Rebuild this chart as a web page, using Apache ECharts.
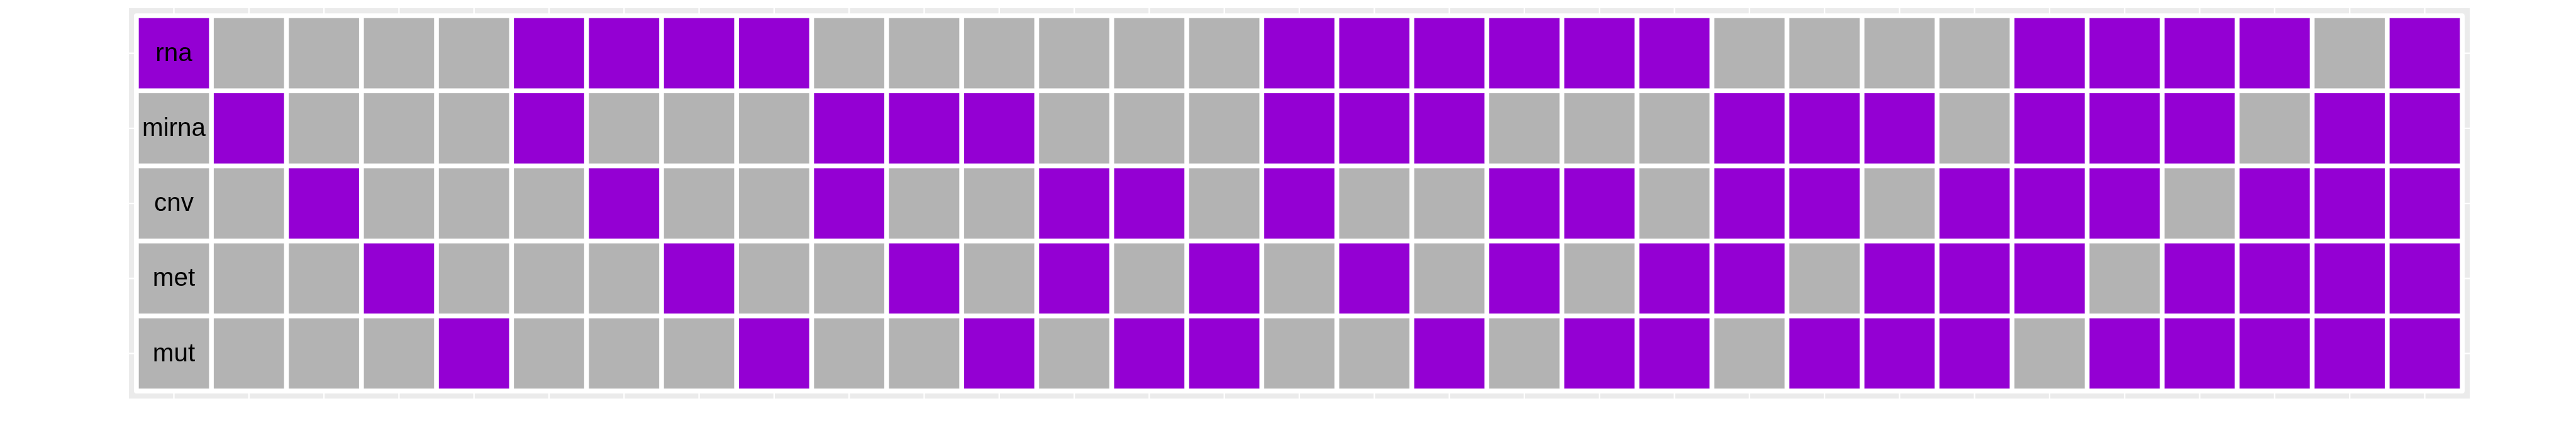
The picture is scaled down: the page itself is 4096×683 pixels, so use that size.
<!DOCTYPE html>
<html><head><meta charset="utf-8">
<script src="https://cdn.jsdelivr.net/npm/echarts@6/dist/echarts.min.js"></script>
<style>html,body{margin:0;padding:0;background:#fff}#c{width:4096px;height:683px}</style>
</head><body><div id="c"></div>
<script>
// ---- data ----
const rows = ['rna', 'mirna', 'cnv', 'met', 'mut'];
const columns = ['1','2','3','4','5','6','7','8','9','10','11','12','13','14','15','16','17','18','19','20','21','22','23','24','25','26','27','28','29','30','31'];
const rna   = [1,0,0,0,0,1,1,1,1,0,0,0,0,0,0,1,1,1,1,1,1,0,0,0,0,1,1,1,1,0,1];
const mirna = [0,1,0,0,0,1,0,0,0,1,1,1,0,0,0,1,1,1,0,0,0,1,1,1,0,1,1,1,0,1,1];
const cnv   = [0,0,1,0,0,0,1,0,0,1,0,0,1,1,0,1,0,0,1,1,0,1,1,0,1,1,1,0,1,1,1];
const met   = [0,0,0,1,0,0,0,1,0,0,1,0,1,0,1,0,1,0,1,0,1,1,0,1,1,1,0,1,1,1,1];
const mut   = [0,0,0,0,1,0,0,0,1,0,0,1,0,1,1,0,0,1,0,1,1,0,1,1,1,0,1,1,1,1,1];
const matrix = [rna, mirna, cnv, met, mut];

// ---- style ----
const S = 4096 / 7200;
const PURPLE = '#9400D3';
const GREY = '#B3B3B3';
const PANEL = '#EBEBEB';
const TILE = 0.937;
const INSET = 0.068;

const cellData = [];
matrix.forEach((arr, r) => arr.forEach((v, c) => cellData.push([c, r, v])));
const labelData = rows.map((name, r) => [0, r, name]);

const chart = echarts.init(document.getElementById('c'), null, {renderer: 'canvas'});
const nC = columns.length, nR = rows.length;

chart.setOption({
  animation: false,
  backgroundColor: '#ffffff',
  grid: {
    left: 360.2 * S, top: 23 * S,
    width: (6903 - 360.2) * S, height: (1112.7 - 23) * S,
    show: true, backgroundColor: PANEL, borderWidth: 0
  },
  xAxis: {type: 'value', min: -0.6, max: nC - 1 + 0.6, show: false},
  yAxis: {type: 'value', min: -0.6, max: nR - 1 + 0.6, inverse: true, show: false},
  series: [
    {
      type: 'custom',
      coordinateSystem: 'cartesian2d',
      data: [[0, 0]],
      silent: true,
      z: 1,
      renderItem: function (params, api) {
        const children = [];
        const lw = 4 * S;
        const tl = api.coord([-0.6, -0.6]);
        const br = api.coord([nC - 1 + 0.6, nR - 1 + 0.6]);
        columns.forEach((_, c) => {
          const x = api.coord([c, 0])[0];
          children.push({type: 'line', shape: {x1: x, y1: tl[1], x2: x, y2: br[1]},
            style: {stroke: '#ffffff', lineWidth: lw}});
        });
        rows.forEach((_, r) => {
          const y = api.coord([0, r])[1];
          children.push({type: 'line', shape: {x1: tl[0], y1: y, x2: br[0], y2: y},
            style: {stroke: '#ffffff', lineWidth: lw}});
        });
        const a = api.coord([-0.6 + INSET, -0.6 + INSET]);
        const b = api.coord([nC - 1 + 0.6 - INSET, nR - 1 + 0.6 - INSET]);
        children.push({type: 'rect', shape: {x: a[0], y: a[1], width: b[0] - a[0], height: b[1] - a[1], r: 7 * S},
          style: {fill: '#ffffff'}});
        return {type: 'group', children: children};
      }
    },
    {
      type: 'custom',
      coordinateSystem: 'cartesian2d',
      data: cellData,
      silent: true,
      z: 2,
      renderItem: function (params, api) {
        const c = api.value(0), r = api.value(1), v = api.value(2);
        const p = api.coord([c, r]);
        const sz = api.size([TILE, TILE]);
        return {type: 'rect',
          shape: {x: p[0] - sz[0] / 2, y: p[1] - sz[1] / 2, width: sz[0], height: sz[1]},
          style: {fill: v ? PURPLE : GREY, stroke: 'rgba(255,255,255,0.25)', lineWidth: 0.6}};
      }
    },
    {
      type: 'custom',
      coordinateSystem: 'cartesian2d',
      data: labelData,
      silent: true,
      z: 3,
      renderItem: function (params, api) {
        const p = api.coord([api.value(0), api.value(1)]);
        return {type: 'text', x: p[0], y: p[1] + 1,
          style: {text: labelData[params.dataIndex][2], fill: '#000000',
            font: (71 * S).toFixed(1) + 'px "Liberation Sans", Arial, sans-serif',
            align: 'center', verticalAlign: 'middle'}};
      }
    }
  ]
});
</script>
</body></html>
